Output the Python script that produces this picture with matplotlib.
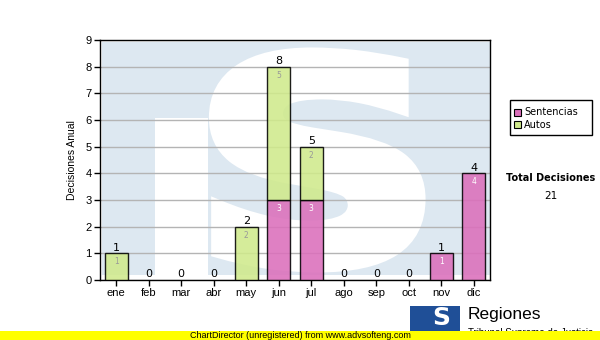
import matplotlib
matplotlib.use('Agg')
import matplotlib.pyplot as plt
from matplotlib.patches import Rectangle, PathPatch
from matplotlib.textpath import TextPath
from matplotlib.font_manager import FontProperties
from matplotlib.transforms import Affine2D
import numpy as np

meses = ['ene', 'feb', 'mar', 'abr', 'may', 'jun', 'jul', 'ago', 'sep', 'oct', 'nov', 'dic']
sentencias = [0, 0, 0, 0, 0, 3, 3, 0, 0, 0, 1, 4]
autos = [1, 0, 0, 0, 2, 5, 2, 0, 0, 0, 0, 0]
total_decisiones = 21

pink = '#db6fbb'
green = '#d0ea8c'

fig = plt.figure(figsize=(6, 3.4), dpi=100)
ax = fig.add_axes([100/600, 60/340, 390/600, 240/340])

# watermark (logo), drawn in axes fraction
wm = '#dde8f1'
ax.add_patch(Rectangle((0.005, 0.021), 0.995, 0.971, transform=ax.transAxes,
                       facecolor=wm, edgecolor='none', zorder=0))
ax.add_patch(Rectangle((0.141, 0.021), 0.135, 0.654, transform=ax.transAxes,
                       facecolor='white', edgecolor='none', zorder=0))
tp = TextPath((0, 0), 'S', size=100, prop=FontProperties(family='DejaVu Sans', weight='bold'))
ext = tp.get_extents()
sx = 0.52 / ext.width
sy = 0.88 / ext.height
tr = Affine2D().translate(-ext.x0, -ext.y0).scale(sx, sy).translate(0.297, 0.06) + ax.transAxes
ax.add_patch(PathPatch(tp, transform=tr, facecolor='white', edgecolor='white',
                       linewidth=10, joinstyle='miter', zorder=0))

x = np.arange(len(meses))
w = 0.71
ax.bar(x, sentencias, w, color=pink, edgecolor='black', linewidth=1, alpha=0.88, zorder=3)
ax.bar(x, autos, w, bottom=sentencias, color=green, edgecolor='black', linewidth=1,
       alpha=0.88, zorder=3)

# hide the zero-height bar outlines
for p in ax.patches:
    if hasattr(p, 'get_height') and p.get_height() == 0 and p.get_width() == w:
        p.set_visible(False)

for i in range(len(meses)):
    s = sentencias[i]
    a = autos[i]
    if s > 0:
        ax.annotate(str(s), (i, s), xytext=(0, -3), textcoords='offset points',
                    ha='center', va='top', fontsize=5.5, color='white', zorder=5)
    if a > 0:
        ax.annotate(str(a), (i, s + a), xytext=(0, -3), textcoords='offset points',
                    ha='center', va='top', fontsize=5.5, color='#999999', zorder=5)
    ax.annotate(str(s + a), (i, s + a), xytext=(0, 0.5), textcoords='offset points',
                ha='center', va='bottom', fontsize=8, color='black', zorder=5)

ax.set_xlim(-0.5, 11.5)
ax.set_ylim(0, 9)
ax.set_yticks(range(10))
ax.set_xticks(x)
ax.set_xticklabels(meses, family='Liberation Sans', fontsize=8)
for lab in ax.get_yticklabels():
    lab.set_family('Liberation Sans')
    lab.set_fontsize(8)
ax.tick_params(axis='both', length=4, width=1, color='black', pad=2)
ax.yaxis.grid(True, color='#b4b4b4', linewidth=1, zorder=1)
ax.set_axisbelow(True)
for sp in ax.spines.values():
    sp.set_linewidth(1)
ax.set_ylabel('Decisiones Anual', family='Liberation Sans', fontsize=7.5, labelpad=6)

# legend box
fig.patches.append(Rectangle((510/600, 1 - 135/340), 82/600, 35/340, transform=fig.transFigure,
                             facecolor='white', edgecolor='black', linewidth=1))
fig.patches.append(Rectangle((514/600, 1 - 116/340), 7/600, 7/340, transform=fig.transFigure,
                             facecolor=pink, edgecolor='black', linewidth=0.8))
fig.patches.append(Rectangle((514/600, 1 - 128/340), 7/600, 7/340, transform=fig.transFigure,
                             facecolor=green, edgecolor='black', linewidth=0.8))
fig.text(524/600, 1 - 112.5/340, 'Sentencias', fontsize=7, va='center', ha='left')
fig.text(524/600, 1 - 124.5/340, 'Autos', fontsize=7, va='center', ha='left')

fig.text(551/600, 1 - 178/340, 'Total Decisiones', fontsize=7, weight='bold', ha='center', va='center')
fig.text(551/600, 1 - 196/340, str(total_decisiones), fontsize=7.5, ha='center', va='center')

# logo at the bottom
fig.patches.append(Rectangle((410/600, 0), 50/600, 34/340, transform=fig.transFigure,
                             facecolor='#1f4f97', edgecolor='none', zorder=1))
fig.text(441/600, 1 - 318/340, 'S', fontsize=18, weight='bold', family='DejaVu Sans',
         color='white', ha='center', va='center', zorder=2)
fig.text(468/600, 1 - 315/340, 'Regiones', fontsize=12.5, family='Liberation Sans',
         ha='left', va='center', zorder=2)
fig.text(468/600, 1 - 333/340, 'Tribunal Supremo de Justicia', fontsize=7,
         family='Liberation Sans', ha='left', va='center', zorder=2)

# unregistered banner
fig.patches.append(Rectangle((0, 0), 1, 9.5/340, transform=fig.transFigure,
                             facecolor='#ffff00', edgecolor='none', zorder=5))
fig.text(300/600, 1 - 335/340, 'ChartDirector (unregistered) from www.advsofteng.com',
         fontsize=6.5, family='Liberation Sans', ha='center', va='center', zorder=6)

fig.savefig('out.png', dpi=100)
